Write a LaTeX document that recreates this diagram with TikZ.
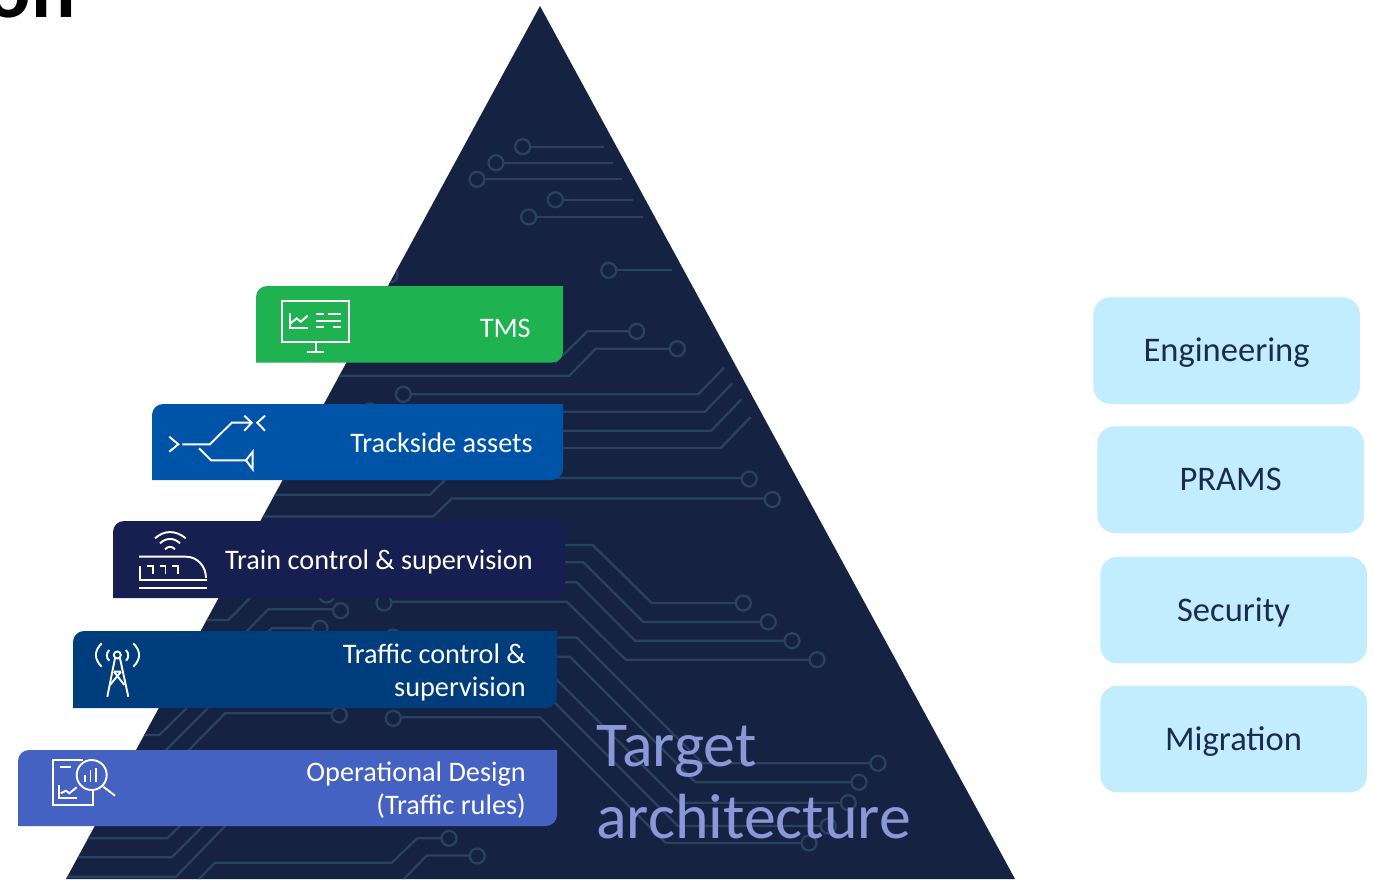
\documentclass[tikz,border=0pt]{standalone}
\usepackage{fontspec}
\setmainfont{Carlito}
\definecolor{pyr}{HTML}{162241}
\definecolor{trace}{HTML}{284361}
\definecolor{cTMS}{HTML}{1FB251}
\definecolor{cTrack}{HTML}{0054A8}
\definecolor{cTrain}{HTML}{171F50}
\definecolor{cTraffic}{HTML}{003D7D}
\definecolor{cOper}{HTML}{4561C1}
\definecolor{cSide}{HTML}{C2EDFE}
\definecolor{cSideText}{HTML}{1A2A52}
\definecolor{cTarget}{HTML}{8A97D8}
\tikzset{
  x=0.75pt,y=-0.75pt,
  tr/.style={draw=trace,line width=1.7pt,line join=miter},
  ico/.style={draw=white,line width=1.45pt,line join=miter},
  tagtext/.style={text=white,font=\fontsize{21.2pt}{25pt}\selectfont,anchor=base east,inner sep=0pt,align=right},
  sidebox/.style={fill=cSide,rounded corners=13pt,minimum width=200pt,minimum height=80pt,text=cSideText,font=\fontsize{25.9pt}{30pt}\selectfont,anchor=north west,inner sep=0pt,text height=17pt,text depth=0.4pt},
  targettext/.style={text=cTarget,font=\fontsize{47.9pt}{56pt}\selectfont,anchor=base west,inner sep=0pt},
}
\newcommand{\tagbox}[5]{% x1 y1 x2 y2 colour
  \fill[#5] (#1,#4) -- (#1,#2+11) .. controls (#1,#2+5) and (#1+5,#2) .. (#1+11,#2) -- (#3,#2) -- (#3,#4-11) .. controls (#3,#4-5) and (#3-5,#4) .. (#3-11,#4) -- cycle;
}
\newcommand{\pin}[2]{\draw[tr] (#1,#2) circle[radius=7.5];}
\begin{document}
\begin{tikzpicture}
\useasboundingbox (0,0) rectangle (1373,879);
\clip (0,0) rectangle (1373,879);
\node[font=\fontsize{62pt}{62pt}\selectfont\bfseries,anchor=base east,inner sep=0pt,text=black] (title) at (76,17) {on};
\fill[pyr] (540,6) -- (1015,879) -- (66,879) -- cycle;
\begin{scope}
\clip (540,6) -- (1015,879) -- (66,879) -- cycle;
% top
\pin{522.7}{146.7}\draw[tr] (530.2,146.7) -- (604,146.7);
\pin{496}{162.7}\draw[tr] (503.5,162.7) -- (613,162.7);
\pin{477}{179.3}\draw[tr] (484.5,179.3) -- (622,179.3);
\pin{555.3}{199.7}\draw[tr] (562.8,199.7) -- (633,199.7);
\pin{528.7}{217}\draw[tr] (536.2,217) -- (643,217);
\pin{608.7}{270.3}\draw[tr] (616.2,270.3) -- (671.7,270.3);
\pin{390}{275}\draw[tr] (382,275) -- (372,275);
% middle right
\pin{636.7}{331.3}\draw[tr] (629.2,331.3) -- (587.3,331.3) -- (555,363);
\pin{677.3}{348.7}\draw[tr] (669.8,348.7) -- (595.7,348.7) -- (569.3,375.7) -- (300,375.7);
\pin{403.3}{394.3}\draw[tr] (410.8,394.3) -- (698.3,394.3) -- (724,367.7);
\pin{370}{411}
\draw[tr] (500,411.7) -- (705,411.7) -- (732.3,383.3);
\draw[tr] (500,430.7) -- (711.3,430.7) -- (741.3,399.3);
\draw[tr] (500,448) -- (720.7,448) -- (750.7,417);
\pin{749.3}{479}\draw[tr] (741.8,478) -- (447,478) -- (430,494.7) -- (200,494.7);
\pin{772.3}{499.5}\draw[tr] (764.8,498.5) -- (451.7,498.5) -- (433.3,516.5) -- (200,516.5);
% lower right
\pin{743.3}{603}\draw[tr] (735.8,603) -- (651.7,603) -- (592.7,545) -- (500,545);
\pin{768.3}{622}\draw[tr] (760.8,622) -- (643.3,622) -- (583.3,562.3) -- (500,562.3);
\pin{792}{640.7}\draw[tr] (784.5,640.7) -- (635,640.7) -- (576.7,582.3) -- (500,582.3);
\pin{817}{659.7}\draw[tr] (809.5,659.7) -- (625.7,659.7) -- (566.7,601.7) -- (391.5,601.7);
\pin{384}{603}
% between train and traffic
\pin{326.7}{595}
\pin{340.7}{610.7}\draw[tr] (333.2,609.3) -- (268.3,609.3) -- (244,634);
\draw[tr] (250,598) -- (228.3,620) -- (190,620);
\pin{320}{628.3}\draw[tr] (312.5,628.3) -- (271.7,628.3) -- (262,638);
\pin{393}{637}
% tier to target
\draw[tr] (520,637.5) -- (576.7,637.5) -- (702.7,763.3) -- (870.5,763.3);\pin{878}{763.3}
\draw[tr] (520,656.7) -- (570,656.7) -- (695.6,782.3) -- (851.5,782.3);\pin{859}{782.3}
\draw[tr] (520,676) -- (553,676) -- (680,802.7) -- (840.8,802.7);\pin{848.3}{802.7}
\draw[tr] (520,678) -- (530,678) -- (678,826) -- (820.8,826);\pin{828.3}{826}
\pin{809}{843}\pin{393.3}{718.3}
\draw[tr] (400.8,717.3) -- (540,717.3) -- (665.7,843) -- (801.5,843);
% between traffic and oper
\pin{339.3}{715}\draw[tr] (331.8,713.3) -- (225,713.3) -- (188,751);
\draw[tr] (186.7,708) -- (159.3,735) -- (130,735);
\draw[tr] (208,708) -- (165,751);
% bottom
\draw[tr] (70,838.3) -- (167.3,838.3) -- (181.7,824);
\draw[tr] (60,857.3) -- (171.7,857.3) -- (205,824);
\draw[tr] (60,876.7) -- (176,876.7) -- (227,824);
\pin{449}{838.3}\draw[tr] (441.5,838.3) -- (417.3,838.3) -- (391.7,862.7) -- (215,862.7) -- (196,882);
\pin{477.3}{856}\draw[tr] (469.8,855.5) -- (426.7,855.5) -- (401,882);
\end{scope}
% tiers
\tagbox{256}{286}{563}{362.5}{cTMS}
\tagbox{152}{404}{563}{480}{cTrack}
\tagbox{113}{521}{565}{598}{cTrain}
\tagbox{73}{631}{557}{708}{cTraffic}
\tagbox{18}{750}{557}{826}{cOper}
\node[tagtext] (tms) at (531,337) {TMS};
\node[tagtext] (track) at (533,452) {Trackside assets};
\node[tagtext] (train) at (533,569) {Train control \& supervision};
\node[tagtext] (traffic) at (526,663) {Traffic control \&};
\node[tagtext] (traffic2) at (526,696) {supervision};
\node[tagtext] (oper) at (526,781) {Operational Design};
\node[tagtext] (oper2) at (526,814) {(Traffic rules)};
% TMS icon
\draw[ico] (282.3,300.7) rectangle (349,342.3);
\draw[ico] (315.7,342.3) -- (315.7,351.7) (306.7,351.7) -- (324.3,351.7);
\draw[ico] (290,313.3) -- (290,327.7) -- (307.7,327.7);
\draw[ico] (290.7,323.3) -- (296.7,318.3) -- (300.7,321.7) -- (307.7,315.7);
\draw[ico] (316,313.7) -- (324,313.7) (328.3,313.7) -- (341,313.7) (316,320.7) -- (341,320.7) (316,327.3) -- (324,327.3) (332.7,327.3) -- (341,327.3);
% track icon
\draw[ico] (169.3,436.7) -- (178.3,444.3) -- (169.3,451.7);
\draw[ico] (182.3,444.3) -- (210,444.3) -- (231.7,422.7) -- (250,422.7);
\draw[ico] (244.3,415.7) -- (251.7,422.7) -- (244.3,430.7);
\draw[ico] (265,415.7) -- (257.3,422.7) -- (265,430.7);
\draw[ico] (199,448.3) -- (211,460.3) -- (246.7,460.3);
\draw[ico] (252.7,451.7) -- (252.7,469.3) -- (246,460.3) -- cycle;
% train icon
\draw[ico] (155,538.3) .. controls (164,530) and (176,530) .. (185.7,538.3);
\draw[ico] (160,543.3) .. controls (166,537.5) and (174,537.5) .. (180,543.3);
\draw[ico] (165,549.3) .. controls (168,546) and (172,546) .. (175,549.3);
\draw[ico] (139,556.7) -- (186,556.7) .. controls (198,556.7) and (206,567) .. (206,578);
\draw[ico] (140,566) -- (140,580) -- (206.5,580);
\draw[ico] (139,587.7) -- (206.7,587.7);
\draw[ico] (147,566) -- (153,566) -- (153,574) (159.5,566) -- (165.5,566) -- (165.5,574) (172,566) -- (178,566) -- (178,574);
% tower icon
\draw[ico] (117.3,655) circle[radius=3.5];
\draw[ico] (115,658.3) -- (107.3,696.7) (120,658.3) -- (128.3,696.7);
\draw[ico] (114,671.7) -- (121,671.7) (114,671.7) -- (124.3,685) (121,671.7) -- (110,685);
\draw[ico] (101.7,643.3) .. controls (94,651) and (94,659) .. (101.7,666.7);
\draw[ico] (109.3,650) .. controls (106,653) and (106,658) .. (109.3,660.7);
\draw[ico] (133.3,643.3) .. controls (141,651) and (141,659) .. (133.3,666.7);
\draw[ico] (126,650) .. controls (129,653) and (129,658) .. (126,660.7);
% analysis icon
\draw[ico] (83.3,760) -- (52.7,760) -- (52.7,805) -- (93.3,805) -- (93.3,791);
\draw[ico] (60,767.3) -- (70.7,767.3);
\draw[ico] (59.3,785) -- (59.3,798.3) -- (76.7,798.3);
\draw[ico] (60.7,793.3) -- (66,790.7) -- (69.3,793.3) -- (76.7,787.3);
\draw[ico] (91.7,775) circle[radius=15];
\draw[ico] (103.3,786.7) -- (115,795.7);
\draw[ico] (85,775) -- (85,782) (90.5,770) -- (90.5,782) (96,768) -- (96,782);
% target
\node[targettext] (target) at (596,766) {Target};
\node[targettext] (arch) at (596,838) {architecture};
% side
\node[sidebox] (eng) at (1093,297) {Engineering};
\node[sidebox] (prams) at (1097,426) {PRAMS};
\node[sidebox] (sec) at (1100,556.5) {Security};
\node[sidebox] (mig) at (1100,685.5) {Migration};
\end{tikzpicture}
\end{document}
